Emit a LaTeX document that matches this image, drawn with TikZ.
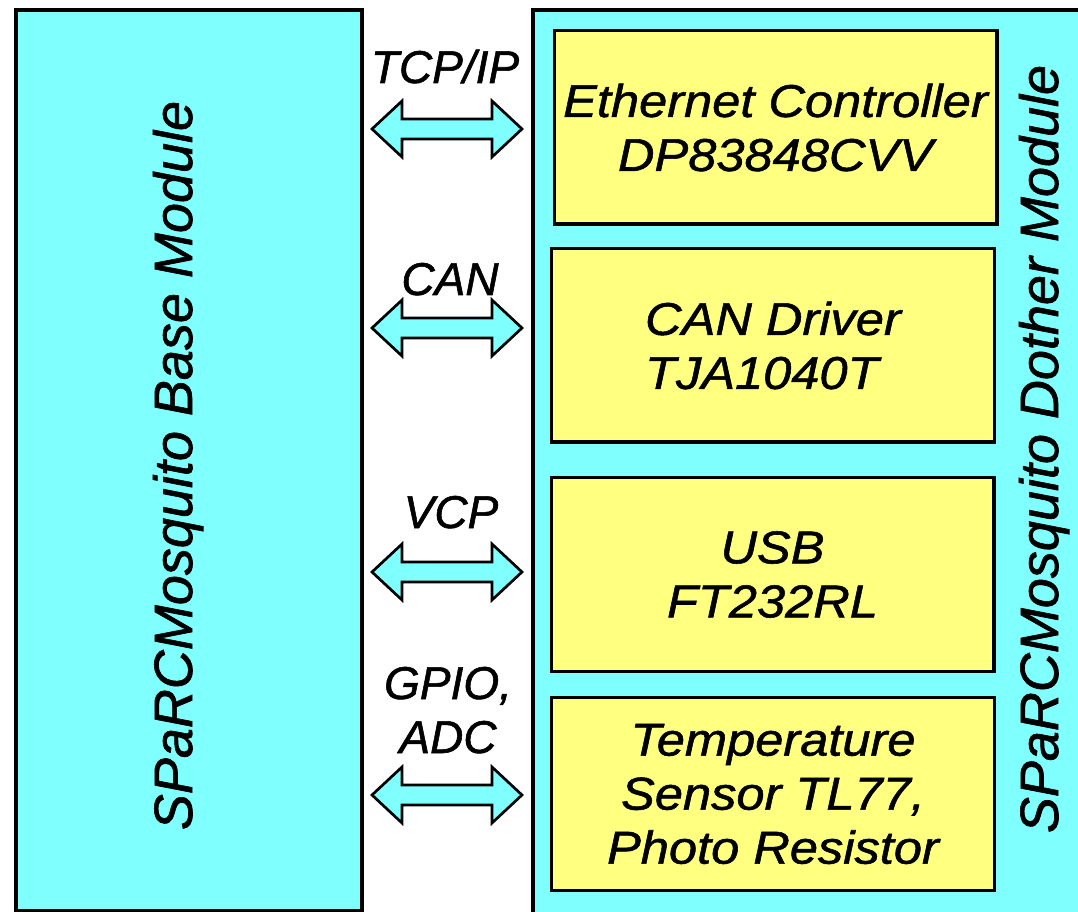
\documentclass[tikz,border=0pt]{standalone}
\usepackage{fontspec}
\setmainfont{Liberation Sans}[FakeBold=1.2]
\newfontfamily\chipfont{Liberation Sans}[FakeStretch=1.1,FakeBold=1.2]
\usetikzlibrary{calc}
\definecolor{modcyan}{RGB}{128,255,255}
\definecolor{chipyellow}{RGB}{255,255,128}

\begin{document}
\begin{tikzpicture}[x=0.75pt,y=-0.75pt,
  module/.style={draw,line width=3pt,fill=modcyan,inner sep=0pt},
  chip/.style={draw,line width=2.5pt,fill=chipyellow,minimum width=332pt,minimum height=145pt,inner sep=0pt,align=center,font=\chipfont\itshape\fontsize{34.5}{40.5}\selectfont},
  buslabel/.style={anchor=base,align=center,font=\itshape\fontsize{34.5}{40.5}\selectfont},
  modlabel/.style={anchor=base,rotate=90,font=\itshape\fontsize{40.5}{48}\selectfont},
  busarrow/.style={draw,line width=2pt,fill=modcyan,line join=miter}]
\useasboundingbox[fill=white] (0,0) rectangle (1078,912);
\clip (0,0) rectangle (1078,912);
% the two modules
\node[module,minimum width=259.5pt,minimum height=675.75pt] (base) at (189,460.5) {};
\node[module,minimum width=425.25pt,minimum height=690pt] (dother) at (816.5,470) {};
\node[modlabel] (baselab) at (192,465.5) {SPaRCMosquito Base Module};
\node[modlabel] (dotherlab) at (1058,449) {SPaRCMosquito Dother Module};
% parts on the dother module
\node[chip] (eth) at (775.5,127.5) {Ethernet Controller\\DP83848CVV};
\node[chip,align=left] (can) at (773,345.5) {CAN Driver\\TJA1040T};
\node[chip] (usb) at (772.5,574.5) {USB\\FT232RL};
\node[chip] (temp) at (773,794) {Temperature\\Sensor TL77,\\Photo Resistor};
% buses
\node[buslabel] (tcp) at (445,83) {TCP/IP};
\node[buslabel] (canbus) at (450,295) {CAN};
\node[buslabel] (vcp) at (451,528) {VCP};
\node[buslabel] (gpio) at (448,753) {GPIO,\\ADC};
\foreach \y in {129,328,572,795}{
  \coordinate (l) at ($(base.east |- 0,\y)+(8,0)$);
  \coordinate (r) at ($(dother.west |- 0,\y)+(-9,0)$);
  \draw[busarrow] (l) -- ++(30,-28) -- ++(0,18) -- ($(r)+(-30,-10)$) -- ++(0,-18) -- (r)
    -- ++(-30,28) -- ++(0,-18) -- ($(l)+(30,10)$) -- ++(0,18) -- cycle;
}
\end{tikzpicture}
\end{document}
